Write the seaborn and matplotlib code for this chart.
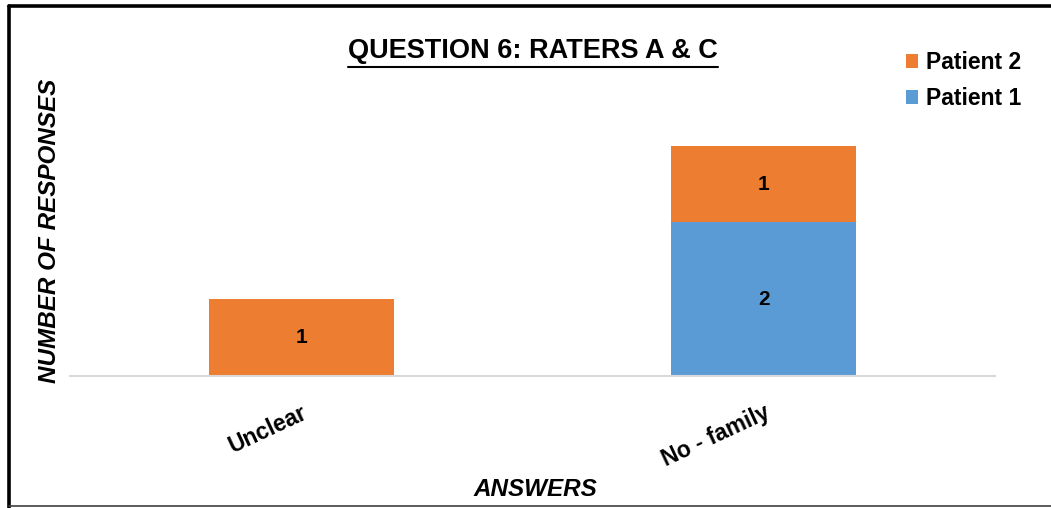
import seaborn as sns
import matplotlib.pyplot as plt
import pandas as pd

answers = ['Unclear', 'No - family']
patient1 = [0, 2]
patient2 = [1, 1]

sns.set_style('white')
plt.rcParams['font.family'] = ['Liberation Sans', 'DejaVu Sans']
plt.rcParams['text.color'] = 'black'
plt.rcParams['axes.labelcolor'] = 'black'
plt.rcParams['xtick.color'] = 'black'

df = pd.DataFrame({'answer': answers, 'p1': patient1, 'p2': patient2})

fig = plt.figure(figsize=(10.51, 5.08), dpi=100)
ax = fig.add_axes([0.0666, 0.26, 0.88, 0.68])

sns.barplot(data=df, x='answer', y='p1', color='#5B9BD5', width=0.4,
            saturation=1, ax=ax, label='Patient 1')
sns.barplot(data=df, x='answer', y='p2', bottom=df['p1'], color='#ED7D31',
            width=0.4, saturation=1, ax=ax, label='Patient 2')

# value labels in the middle of each segment
for c in ax.containers:
    for rect in c:
        rect.set_linewidth(0)
        h = rect.get_height()
        if h > 0:
            ax.text(rect.get_x() + rect.get_width() / 2,
                    rect.get_y() + h / 2, f'{h:.0f}',
                    ha='center', va='center', fontsize=15, weight='bold')

ax.set_xlim(-0.5, 1.5)
ax.set_ylim(0, 4.5)
ax.set_yticks([])
for s in ['top', 'right', 'left']:
    ax.spines[s].set_visible(False)
ax.spines['bottom'].set_color('#d9d9d9')
ax.spines['bottom'].set_linewidth(1.5)

ax.set_xticks(range(len(answers)))
ax.set_xticklabels(answers, rotation=25, ha='right', rotation_mode='anchor',
                   fontsize=16.5, weight='bold')
ax.tick_params(axis='x', length=0, pad=18)

ax.set_xlabel('ANSWERS', fontsize=17.5, weight='bold', style='italic')
ax.xaxis.set_label_coords(0.503, -0.295)
ax.set_ylabel('NUMBER OF RESPONSES', fontsize=17.5, weight='bold',
              style='italic')
ax.yaxis.set_label_coords(-0.01, 0.42)

title = fig.text(0.507, 0.9, 'QUESTION 6: RATERS A & C', ha='center',
                 va='center', fontsize=19.5, weight='bold')
fig.canvas.draw()
bb = title.get_window_extent().transformed(fig.transFigure.inverted())
fig.add_artist(plt.Line2D([bb.x0, bb.x1], [bb.y0 - 0.006, bb.y0 - 0.006],
                          color='black', lw=1.5))

handles, labels = ax.get_legend_handles_labels()
ax.legend(handles[::-1], labels[::-1], loc='upper left',
          bbox_to_anchor=(0.842, 0.94), bbox_transform=fig.transFigure,
          frameon=False, prop={'weight': 'bold', 'size': 16.5},
          handlelength=0.55, handleheight=0.55, handletextpad=0.35,
          labelspacing=0.55)

# frame around the picture: thick top/left, thin bottom
fig.add_artist(plt.Line2D([0.0086, 1.0], [0.989, 0.989], color='black', lw=2.6))
fig.add_artist(plt.Line2D([0.0086, 0.0086], [0.0, 0.989], color='black', lw=2.6))
fig.add_artist(plt.Line2D([0.0086, 1.0], [0.003, 0.003], color='#404040', lw=1.2))

fig.savefig('out.png', dpi=100)
